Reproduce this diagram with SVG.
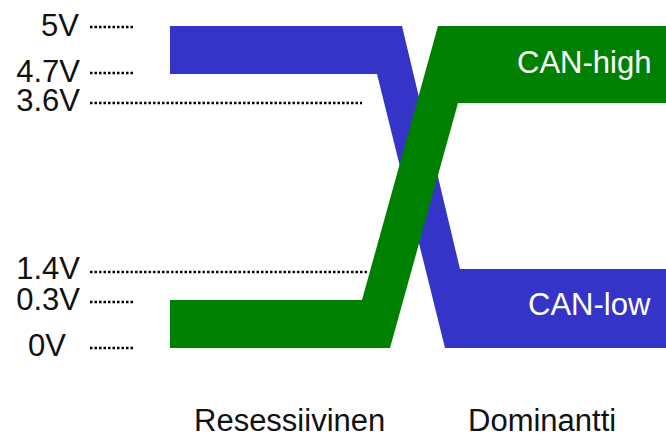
<svg xmlns="http://www.w3.org/2000/svg" width="666" height="437" viewBox="0 0 666 437">
  <style>
    .lbl { font-family: "Liberation Sans", Arial, sans-serif; font-size: 31px; fill: #111; }
    .end { text-anchor: end; }
    .sig { font-family: "Liberation Sans", Arial, sans-serif; font-size: 31px; fill: #fff; }
    .guide { stroke: #000; stroke-width: 2.5; stroke-dasharray: 2.5 2; fill: none; }
  </style>
  <rect width="666" height="437" fill="#fff"/>

  <!-- CAN-low: recessive at 4.7..5V, dominant at 0..1.4V -->
  <g id="can-low">
    <polygon points="170,26 402,26 460,269 666,269 666,348 445,348 377,74 170,74" fill="#3434c8"/>
    <text class="sig" x="528" y="315">CAN-low</text>
  </g>

  <!-- CAN-high: recessive at 0..0.3V, dominant at 3.6..5V -->
  <g id="can-high">
    <polygon points="170,300 362,300 438,26 666,26 666,103 458,103 390,348 170,348" fill="#008000"/>
    <text class="sig" x="517" y="73">CAN-high</text>
  </g>

  <!-- voltage level guides -->
  <g id="guides">
    <line class="guide" x1="90" y1="27" x2="135" y2="27"/>
    <line class="guide" x1="90" y1="73" x2="135" y2="73"/>
    <line class="guide" x1="90" y1="103" x2="362" y2="103"/>
    <line class="guide" x1="90" y1="272" x2="368" y2="272"/>
    <line class="guide" x1="90" y1="302" x2="135" y2="302"/>
    <line class="guide" x1="90" y1="348" x2="135" y2="348"/>
  </g>

  <g id="levels">
    <text class="lbl end" x="79" y="36">5V</text>
    <text class="lbl end" x="80" y="82">4.7V</text>
    <text class="lbl end" x="80" y="111">3.6V</text>
    <text class="lbl end" x="80" y="279">1.4V</text>
    <text class="lbl end" x="80" y="310">0.3V</text>
    <text class="lbl" x="28" y="356">0V</text>
  </g>

  <g id="states">
    <text class="lbl" x="194" y="431">Resessiivinen</text>
    <text class="lbl" x="468" y="431">Dominantti</text>
  </g>
</svg>
